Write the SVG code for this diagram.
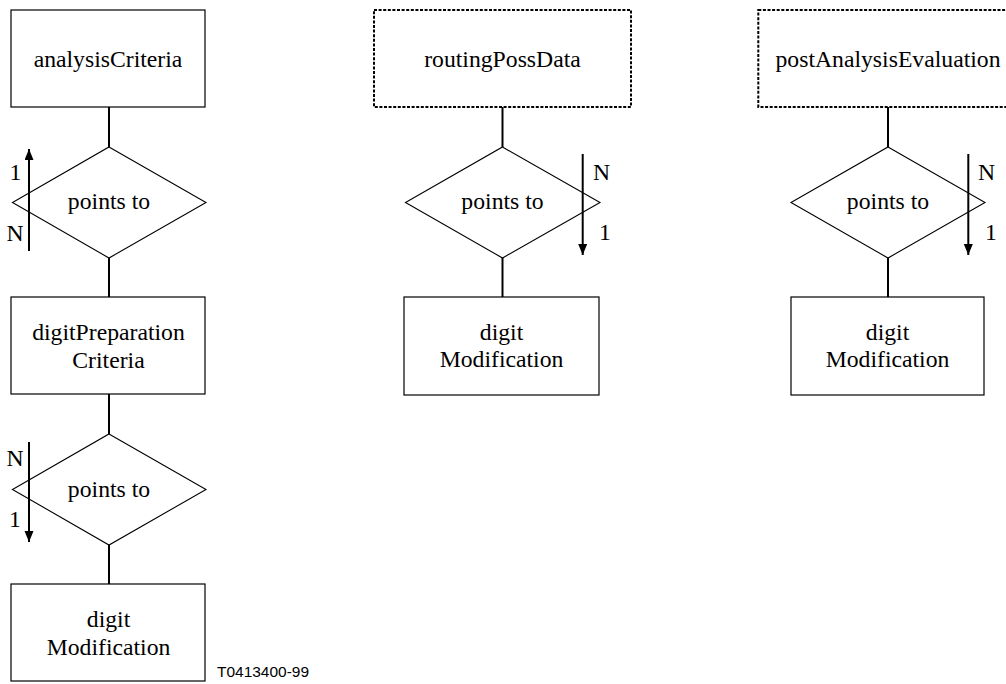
<svg xmlns="http://www.w3.org/2000/svg" width="1006" height="684" viewBox="0 0 1006 684">
<style>
  .box { fill: #fff; stroke: #000; stroke-width: 1.2; }
  .dbox { fill: #fff; stroke: #000; stroke-width: 2; stroke-dasharray: 3 1.6; }
  .dia { fill: none; stroke: #000; stroke-width: 1.1; }
  .conn { stroke: #000; stroke-width: 2; fill: none; }
  .arr { stroke: #000; stroke-width: 2; fill: none; marker-end: url(#ah); }
  .t { font-family: "Liberation Serif", "Times New Roman", serif; font-size: 23.7px; fill: #000; }
  .c { text-anchor: middle; }
  .code { font-family: "Liberation Sans", Arial, sans-serif; font-size: 15.5px; fill: #000; }
</style>
<defs>
  <marker id="ah" markerUnits="userSpaceOnUse" markerWidth="12" markerHeight="10" refX="11" refY="4.5" orient="auto">
    <path d="M0,0 L11,4.5 L0,9 z" fill="#000"/>
  </marker>
</defs>
<rect width="1006" height="684" fill="#fff"/>

<g id="connectors">
  <line class="conn" x1="109" y1="107" x2="109" y2="147"/>
  <line class="conn" x1="109" y1="258" x2="109" y2="297"/>
  <line class="conn" x1="109" y1="394" x2="109" y2="434"/>
  <line class="conn" x1="109" y1="545" x2="109" y2="584"/>
  <line class="conn" x1="502.5" y1="107" x2="502.5" y2="147"/>
  <line class="conn" x1="502.5" y1="258" x2="502.5" y2="297"/>
  <line class="conn" x1="888" y1="107" x2="888" y2="147"/>
  <line class="conn" x1="888" y1="258" x2="888" y2="297"/>
  <line class="arr" x1="29" y1="251" x2="29" y2="149"/>
  <line class="arr" x1="29" y1="442" x2="29" y2="542"/>
  <line class="arr" x1="582.7" y1="154" x2="582.7" y2="255"/>
  <line class="arr" x1="968.3" y1="154" x2="968.3" y2="255"/>
  <text class="t" x="9.5" y="179.5">1</text>
  <text class="t" x="6.5" y="241">N</text>
  <text class="t" x="6.5" y="466">N</text>
  <text class="t" x="9" y="526.7">1</text>
  <text class="t" x="593" y="180">N</text>
  <text class="t" x="599" y="240">1</text>
  <text class="t" x="978" y="180">N</text>
  <text class="t" x="985" y="240">1</text>
</g>

<g id="analysisCriteria">
  <rect class="box" x="11" y="10" width="194" height="97"/>
  <text class="t c" x="108" y="67">analysisCriteria</text>
</g>
<g id="pointsTo1">
  <polygon class="dia" points="109,147 206,202.5 109,258 12.5,202.5"/>
  <text class="t c" x="109" y="209">points to</text>
</g>
<g id="digitPreparationCriteria">
  <rect class="box" x="11" y="297" width="194" height="97"/>
  <text class="t c" x="108.5" y="340">digitPreparation</text>
  <text class="t c" x="108.5" y="367.7">Criteria</text>
</g>
<g id="pointsTo2">
  <polygon class="dia" points="109,434 206,489.5 109,545 12.5,489.5"/>
  <text class="t c" x="109" y="497">points to</text>
</g>
<g id="digitModification1">
  <rect class="box" x="11" y="584" width="194" height="97"/>
  <text class="t c" x="108.5" y="626.7">digit</text>
  <text class="t c" x="108.5" y="655">Modification</text>
</g>

<g id="routingPossData">
  <rect class="dbox" x="374" y="10" width="257" height="97"/>
  <text class="t c" x="502.5" y="67">routingPossData</text>
</g>
<g id="pointsTo3">
  <polygon class="dia" points="502.5,147 600,202.5 502.5,258 405.5,202.5"/>
  <text class="t c" x="502.5" y="209">points to</text>
</g>
<g id="digitModification2">
  <rect class="box" x="404" y="297" width="195" height="98"/>
  <text class="t c" x="501.5" y="340">digit</text>
  <text class="t c" x="501.5" y="366.7">Modification</text>
</g>

<g id="postAnalysisEvaluation">
  <rect class="dbox" x="758.3" y="10" width="260" height="97"/>
  <text class="t c" x="888" y="67">postAnalysisEvaluation</text>
</g>
<g id="pointsTo4">
  <polygon class="dia" points="888,147 985,202.5 888,258 791,202.5"/>
  <text class="t c" x="888" y="209">points to</text>
</g>
<g id="digitModification3">
  <rect class="box" x="791" y="297" width="193" height="98"/>
  <text class="t c" x="887.5" y="340">digit</text>
  <text class="t c" x="887.5" y="366.7">Modification</text>
</g>

<text class="code" x="217" y="676.7" textLength="92" lengthAdjust="spacingAndGlyphs">T0413400-99</text>
</svg>
